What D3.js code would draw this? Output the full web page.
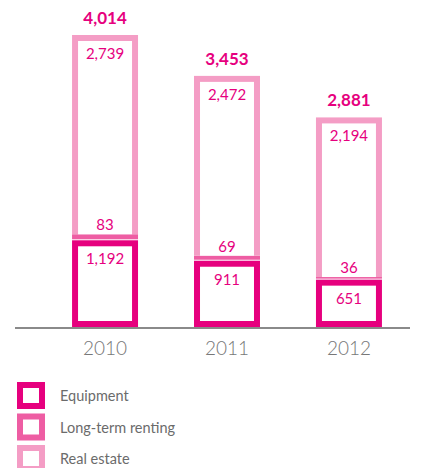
<!DOCTYPE html>
<html lang="en">
<head>
<meta charset="utf-8">
<title>Portfolio</title>
<script src="https://cdn.jsdelivr.net/npm/d3@7"></script>
<style>
  html, body { margin: 0; padding: 0; background: #fff; }
  body { font-family: "Lato", "Open Sans", sans-serif; }
</style>
</head>
<body>
<script>
// data
const years = ["2010", "2011", "2012"];
const keys = ["equipment", "renting", "realEstate"];
const seriesNames = ["Equipment", "Long-term renting", "Real estate"];
const equipment = [1192, 911, 651];
const renting = [83, 69, 36];
const realEstate = [2739, 2472, 2194];
const totals = [4014, 3453, 2881];

const colors = { equipment: "#e6007e", renting: "#ee5da3", realEstate: "#f49dc5" };

let w = 426, h = 468;
let sw = 6; // border width of the boxes

let svg = d3.select("body").append("svg")
  .attr("width", w)
  .attr("height", h);

let rows = years.map((y, i) => ({
  year: y, equipment: equipment[i], renting: renting[i], realEstate: realEstate[i], total: totals[i]
}));

let xScale = d3.scaleBand()
  .domain(years)
  .range([44, 410])
  .paddingInner(0.459)
  .paddingOuter(0.23);

let yScale = d3.scaleLinear()
  .domain([0, 4014])
  .range([327, 35]);

let stacked = d3.stack().keys(keys)(rows);

let fmt = d3.format(",");

// how far the white inside is inset from the bottom edge of each box
// (real estate sits on the renting band, so it has no own bottom border)
let bottomInset = { equipment: sw, renting: sw, realEstate: 0 };

stacked.forEach(layer => {
  let g = svg.append("g").attr("class", "layer-" + layer.key);
  // renting band leaves a 1px white gap above the equipment box
  let gap = layer.key === "renting" ? 1 : 0;
  g.selectAll("rect.outer")
    .data(layer)
    .enter()
    .append("rect")
    .attr("class", "outer")
    .attr("x", d => xScale(d.data.year))
    .attr("y", d => yScale(d[1]))
    .attr("width", xScale.bandwidth())
    .attr("height", d => yScale(d[0]) - yScale(d[1]) - gap)
    .attr("fill", colors[layer.key]);
  g.selectAll("rect.inner")
    .data(layer.filter(d => yScale(d[0]) - yScale(d[1]) > sw + bottomInset[layer.key]))
    .enter()
    .append("rect")
    .attr("class", "inner")
    .attr("x", d => xScale(d.data.year) + sw)
    .attr("y", d => yScale(d[1]) + sw)
    .attr("width", xScale.bandwidth() - 2 * sw)
    .attr("height", d => yScale(d[0]) - yScale(d[1]) - sw - bottomInset[layer.key])
    .attr("fill", "#fff");
});

// axis line
svg.append("line")
  .attr("x1", 15).attr("x2", 410)
  .attr("y1", 328).attr("y2", 328)
  .attr("stroke", "#8a8a8a")
  .attr("stroke-width", 2);

let xAxis = d3.axisBottom(xScale).tickSize(0).tickPadding(14);
let ax = svg.append("g")
  .attr("transform", "translate(0,328)")
  .call(xAxis);
ax.select(".domain").remove();
ax.selectAll("text")
  .attr("font-family", "Lato, sans-serif")
  .attr("font-weight", 300)
  .attr("font-size", "19px")
  .attr("fill", "#777");

// value labels
let labelColor = "#e6007e";
let cx = d => xScale(d.data.year) + xScale.bandwidth() / 2;

svg.selectAll("text.eq")
  .data(stacked[0])
  .enter().append("text")
  .attr("class", "eq")
  .attr("x", cx)
  .attr("y", d => yScale(d[1]) + 24)
  .attr("text-anchor", "middle")
  .attr("font-size", "15px")
  .attr("fill", labelColor)
  .text(d => fmt(d.data.equipment));

svg.selectAll("text.rent")
  .data(stacked[1])
  .enter().append("text")
  .attr("class", "rent")
  .attr("x", cx)
  .attr("y", d => yScale(d[1]) - 4)
  .attr("text-anchor", "middle")
  .attr("font-size", "15px")
  .attr("fill", labelColor)
  .text(d => fmt(d.data.renting));

svg.selectAll("text.re")
  .data(stacked[2])
  .enter().append("text")
  .attr("class", "re")
  .attr("x", cx)
  .attr("y", d => yScale(d[1]) + 24)
  .attr("text-anchor", "middle")
  .attr("font-size", "15px")
  .attr("fill", labelColor)
  .text(d => fmt(d.data.realEstate));

svg.selectAll("text.tot")
  .data(stacked[2])
  .enter().append("text")
  .attr("class", "tot")
  .attr("x", cx)
  .attr("y", d => yScale(d[1]) - 11)
  .attr("text-anchor", "middle")
  .attr("font-size", "17px")
  .attr("font-weight", "bold")
  .attr("fill", labelColor)
  .text(d => fmt(d.data.total));

// legend
let legend = svg.selectAll("g.legend")
  .data(keys)
  .enter().append("g")
  .attr("class", "legend")
  .attr("transform", (d, i) => "translate(17," + (382 + i * 31.5) + ")");
legend.append("rect")
  .attr("x", sw / 2).attr("y", sw / 2)
  .attr("width", 28 - sw).attr("height", 27 - sw)
  .attr("fill", "#fff")
  .attr("stroke", d => colors[d])
  .attr("stroke-width", sw);
legend.append("text")
  .attr("x", 43)
  .attr("y", 19)
  .attr("font-size", "14.5px")
  .attr("fill", "#6b6b6b")
  .text((d, i) => seriesNames[i]);
</script>
</body>
</html>
